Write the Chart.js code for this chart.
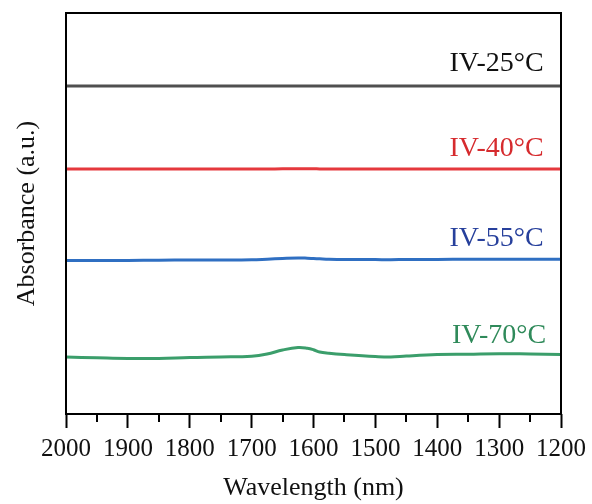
<!DOCTYPE html>
<html lang="en">
<head>
    <meta charset="UTF-8">
    <title>Absorbance spectra</title>
    <style>
        * { box-sizing: border-box; margin: 0; padding: 0; }
        body { background: #ffffff; width: 592px; height: 504px; overflow: hidden; }
        #wrap { position: relative; width: 592px; height: 504px; }
    </style>
</head>
<body>
<div id="wrap"><canvas id="spectra"></canvas></div>

<script src="https://cdn.jsdelivr.net/npm/chart.js"></script>
<script>
    // wavelength grid (nm), shared by all curves
    const wavelengths = [2000, 1950, 1900, 1850, 1800, 1750, 1700, 1675, 1650, 1625, 1610, 1600,
        1590, 1575, 1550, 1500, 1475, 1450, 1400, 1350, 1300, 1250, 1200];

    // absorbance (a.u., offset for stacking)
    const iv25 = [328, 328, 328, 328, 328, 328, 328, 328, 328, 328, 328, 328,
        328, 328, 328, 328, 328, 328, 328, 328, 328, 328, 328];
    const iv40 = [245, 245, 245, 245, 245, 245, 245, 245, 245.2, 245.3, 245.3, 245.2,
        245.1, 245, 245, 245, 245, 245, 245, 245, 245, 245, 245];
    const iv55 = [153.4, 153.5, 153.6, 153.8, 154, 154, 154.2, 154.8, 155.5, 156, 155.8, 155.5,
        155.2, 154.8, 154.5, 154.4, 154.3, 154.5, 154.6, 154.7, 154.7, 154.7, 154.7];
    const iv70 = [57, 56.2, 55.5, 55.5, 56.5, 57, 57.8, 60, 64, 66.5, 65.8, 64.3,
        62, 60.8, 59.5, 57.5, 57, 58, 59.4, 59.8, 60.3, 60, 59.6];

    const seriesNames = ['IV-25°C', 'IV-40°C', 'IV-55°C', 'IV-70°C'];
    const seriesData = [iv25, iv40, iv55, iv70];
    const lineColors = ['#4f4f4f', '#e5383d', '#2f6fc2', '#3b9e6b'];
    const textColors = ['#111111', '#d62b2e', '#27409c', '#2f8a5a'];

    // label anchors (right edge wavelength, baseline value)
    const labelX = [1228, 1228, 1228, 1224];
    const labelY = [343, 258, 168, 71];

    const xMajorTicks = [2000, 1900, 1800, 1700, 1600, 1500, 1400, 1300, 1200];
    const xMinorTicks = [1950, 1850, 1750, 1650, 1550, 1450, 1350, 1250];

    const serif = '"Liberation Serif", "DejaVu Serif", serif';

    const datasets = seriesNames.map((name, i) => ({
        label: name,
        data: wavelengths.map((w, j) => ({ x: w, y: seriesData[i][j] })),
        borderColor: lineColors[i],
        borderWidth: 3,
        pointRadius: 0,
        tension: 0.4,
        fill: false
    }));

    // frame, minor ticks and curve labels
    const decorations = {
        id: 'decorations',
        afterDraw(chart) {
            const { ctx, chartArea: a } = chart;
            const xs = chart.scales.x, ys = chart.scales.y;
            ctx.save();
            ctx.strokeStyle = '#000';
            ctx.lineWidth = 2;
            ctx.strokeRect(a.left, a.top, a.right - a.left, a.bottom - a.top);
            xMinorTicks.forEach(v => {
                const px = Math.round(xs.getPixelForValue(v));
                ctx.beginPath();
                ctx.moveTo(px, a.bottom);
                ctx.lineTo(px, a.bottom + 8);
                ctx.stroke();
            });
            ctx.font = '28px ' + serif;
            ctx.textAlign = 'right';
            ctx.textBaseline = 'alphabetic';
            seriesNames.forEach((name, i) => {
                ctx.fillStyle = textColors[i];
                ctx.fillText(name, xs.getPixelForValue(labelX[i]), ys.getPixelForValue(labelY[i]));
            });
            ctx.restore();
        }
    };

    new Chart(document.getElementById('spectra'), {
        type: 'line',
        data: { datasets },
        options: {
            responsive: true,
            maintainAspectRatio: false,
            animation: false,
            layout: { padding: { top: 13, right: 29, left: 0, bottom: 0 } },
            plugins: { legend: { display: false }, tooltip: { enabled: false } },
            scales: {
                x: {
                    type: 'linear',
                    reverse: true,
                    min: 1200,
                    max: 2000,
                    afterBuildTicks: s => { s.ticks = xMajorTicks.map(v => ({ value: v })); },
                    afterFit: s => { s.height = 90; },
                    border: { display: false },
                    grid: { drawOnChartArea: false, tickLength: 14, tickWidth: 2, tickColor: '#000' },
                    ticks: {
                        autoSkip: false,
                        maxRotation: 0,
                        padding: 6,
                        color: '#111',
                        font: { family: serif, size: 25 },
                        callback: v => String(v)
                    },
                    title: {
                        display: true,
                        text: 'Wavelength (nm)',
                        color: '#111',
                        font: { family: serif, size: 26 },
                        padding: { top: 2, bottom: 0 }
                    }
                },
                y: {
                    min: 0,
                    max: 401,
                    afterFit: s => { s.width = 66; },
                    border: { display: false },
                    grid: { display: false },
                    ticks: { display: false },
                    title: {
                        display: true,
                        text: 'Absorbance (a.u.)',
                        color: '#111',
                        font: { family: serif, size: 26 },
                        padding: { top: 12, bottom: 0 }
                    }
                }
            }
        },
        plugins: [decorations]
    });
</script>
</body>
</html>
